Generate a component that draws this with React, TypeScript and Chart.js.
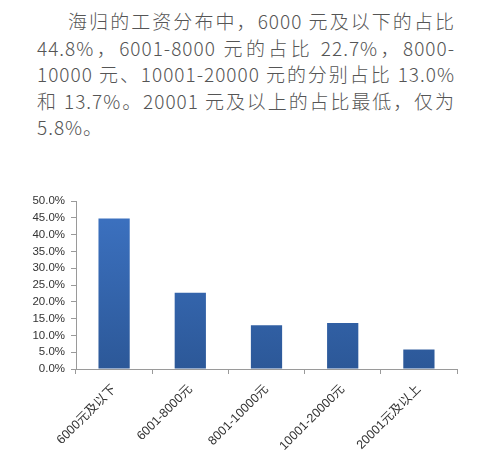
import React, { useEffect, useRef } from "react";
import { Chart, registerables } from "chart.js";

Chart.register(...registerables);

const categories = ["6000元及以下", "6001-8000元", "8001-10000元", "10001-20000元", "20001元及以上"];
const shares = [44.8, 22.7, 13.0, 13.7, 5.8];
const yTicks = [0, 5, 10, 15, 20, 25, 30, 35, 40, 45, 50];

const textLines = [
  "海归的工资分布中，6000 元及以下的占比",
  "44.8%，6001-8000 元的占比 22.7%，8000-",
  "10000 元、10001-20000 元的分别占比 13.0%",
  "和 13.7%。20001 元及以上的占比最低，仅为",
  "5.8%。",
];

export default function App() {
  const ref = useRef<HTMLCanvasElement | null>(null);

  useEffect(() => {
    document.body.style.margin = "0";
    const canvas = ref.current!;
    const chart = new Chart(canvas, {
      type: "bar",
      data: {
        labels: categories,
        datasets: [
          {
            data: shares,
            barPercentage: 0.41,
            categoryPercentage: 1,
            borderWidth: 0,
            backgroundColor: (ctx: any) => {
              const { chart } = ctx;
              const area = chart.chartArea;
              if (!area) return "#3568B0";
              const g = chart.ctx.createLinearGradient(0, area.top, 0, area.bottom);
              g.addColorStop(0, "#3D73C3");
              g.addColorStop(1, "#2C5898");
              return g;
            },
          },
        ],
      },
      options: {
        animation: false,
        responsive: false,
        devicePixelRatio: 1,
        layout: { padding: { left: 0, right: 43, top: 31, bottom: 0 } },
        plugins: { legend: { display: false }, tooltip: { enabled: false } },
        scales: {
          x: {
            offset: true,
            grid: {
              offset: true,
              drawOnChartArea: false,
              drawTicks: true,
              tickLength: 5,
              color: "#9a9a9a",
            },
            border: { color: "#9a9a9a", width: 1 },
            ticks: {
              maxRotation: 45,
              minRotation: 45,
              autoSkip: false,
              padding: 8,
              color: "#333",
              font: { family: "'Liberation Sans', 'Noto Sans CJK SC'", size: 12.5 },
            },
            afterFit: (s: any) => {
              s.height = 98;
            },
          },
          y: {
            min: 0,
            max: 50,
            afterBuildTicks: (s: any) => {
              s.ticks = yTicks.map((v) => ({ value: v }));
            },
            grid: {
              drawOnChartArea: false,
              drawTicks: true,
              tickLength: 5,
              color: "#9a9a9a",
            },
            border: { color: "#9a9a9a", width: 1 },
            ticks: {
              autoSkip: false,
              padding: 6,
              color: "#333",
              font: { family: "'Liberation Sans', sans-serif", size: 11.5 },
              callback: (v: any) => Number(v).toFixed(1) + "%",
            },
            afterFit: (s: any) => {
              s.width = 76;
            },
          },
        },
      },
    });
    return () => chart.destroy();
  }, []);

  return (
    <div
      style={{
        position: "absolute",
        left: 0,
        top: 0,
        width: 500,
        height: 467,
        background: "#fff",
        overflow: "hidden",
      }}
    >
      <div
        style={{
          position: "absolute",
          left: 37,
          top: 8,
          width: 418,
          fontFamily: "'Noto Sans CJK SC', sans-serif",
          fontSize: 19,
          lineHeight: "26.5px",
          color: "#555",
          fontWeight: 300,
          letterSpacing: 1,
        }}
      >
        {textLines.map((t, i) => (
          <div
            key={i}
            style={{
              textAlign: "justify",
              textAlignLast: i < textLines.length - 1 ? "justify" : "left",
              textJustify: "inter-character",
              paddingLeft: i === 0 ? 31 : 0,
              whiteSpace: "nowrap",
            } as any}
          >
            {t}
          </div>
        ))}
      </div>
      <canvas
        ref={ref}
        width={500}
        height={297}
        style={{ position: "absolute", left: 0, top: 170, width: 500, height: 297 }}
      />
    </div>
  );
}
